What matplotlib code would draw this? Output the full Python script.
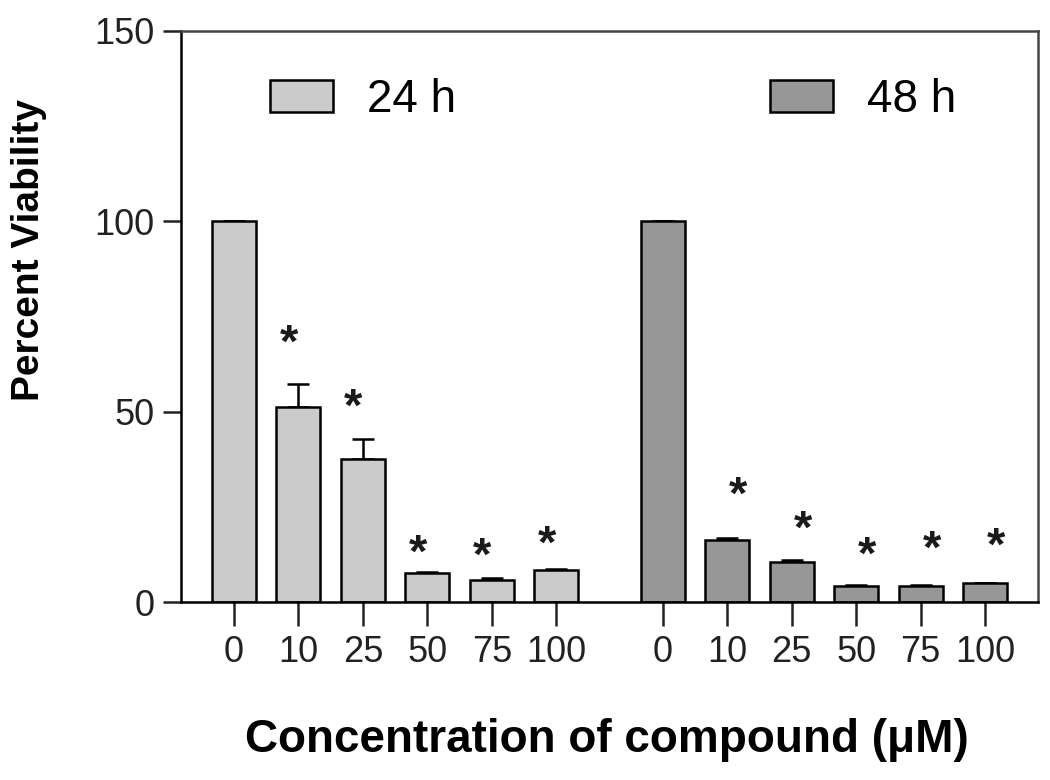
import numpy as np
import matplotlib
matplotlib.use("Agg")
import matplotlib.pyplot as plt
from matplotlib import font_manager

plt.rcParams['font.family'] = ['Liberation Sans', 'DejaVu Sans']

# tick numbers in the figure are a condensed face
names = {f.name for f in font_manager.fontManager.ttflist}
NARROW = "Liberation Sans Narrow" if "Liberation Sans Narrow" in names else None
print("narrow font:", NARROW)

# concentrations (uM) shown under each bar
conc_labels = ["0", "10", "25", "50", "75", "100"]

# percent viability, mean and upper SEM
viab_24h = [100.0, 51.3, 37.6, 7.6, 5.9, 8.3]
err_24h = [0.0, 6.0, 5.3, 0.3, 0.5, 0.4]
viab_48h = [100.0, 16.3, 10.6, 4.2, 4.2, 4.9]
err_48h = [0.0, 0.5, 0.4, 0.2, 0.2, 0.2]

# height of the significance asterisks (None = no mark)
star_24h = [None, 67.5, 50.7, 12.3, 11.6, 14.7]
star_48h = [None, 27.6, 18.6, 11.8, 13.4, 14.2]

GROUP_GAP = 6.65
BAR_W = 0.68
COL_24 = "#cbcbcb"
COL_48 = "#979797"

x24 = np.arange(len(conc_labels))
x48 = x24 + GROUP_GAP

fig = plt.figure(figsize=(10.5, 7.8), dpi=100)
ax = fig.add_axes([0.1724, 0.2282, 0.8162, 0.7321])

ax.bar(x24, viab_24h, width=BAR_W, color=COL_24, edgecolor="black", linewidth=1.8, label="24 h", zorder=2)
ax.bar(x48, viab_48h, width=BAR_W, color=COL_48, edgecolor="black", linewidth=1.8, label="48 h", zorder=2)

for xs, ys, es in [(x24, viab_24h, err_24h), (x48, viab_48h, err_48h)]:
    ax.errorbar(xs, ys, yerr=[np.zeros(len(es)), es], fmt="none", ecolor="black",
                elinewidth=1.8, capsize=8, capthick=1.8, zorder=1)

# asterisks sit a little left of the 24 h bars and right of the 48 h bars
for xs, stars, dx in [(x24, star_24h, -0.15), (x48, star_48h, 0.17)]:
    for xi, s in zip(xs, stars):
        if s is not None:
            ax.text(xi + dx, s, "*", ha="center", va="center", fontsize=34,
                    fontweight="bold", color="#1a1a1a")

ax.set_xlim(-0.82, 12.47)
ax.set_ylim(0, 150)
ax.set_yticks([0, 50, 100, 150])
ax.set_xticks(np.concatenate([x24, x48]))
ax.set_xticklabels(conc_labels + conc_labels)

for sp in ax.spines.values():
    sp.set_linewidth(1.8)
ax.spines["top"].set_color("#444444")
ax.spines["right"].set_color("#444444")

tick_size = 31 if NARROW else 26
ax.tick_params(axis="y", direction="out", length=13, width=1.8, labelsize=tick_size, pad=6, colors="#222222")
ax.tick_params(axis="x", direction="out", length=17, width=1.8, labelsize=tick_size, pad=7, colors="#222222")
if NARROW:
    for lab in ax.get_xticklabels() + ax.get_yticklabels():
        lab.set_family([NARROW, "DejaVu Sans"])

ax.set_ylabel("Percent Viability", fontsize=28, fontweight="bold")
ax.yaxis.set_label_coords(-0.177, 0.616)
ax.yaxis.label.set_va("center")
ax.set_xlabel("Concentration of compound (μM)", fontsize=33, fontweight="bold")
ax.xaxis.set_label_coords(0.497, -0.242)
ax.xaxis.label.set_va("center")

ax.legend(loc="center left", bbox_to_anchor=(0.104, 0.879), ncol=2, frameon=False,
          fontsize=33, handlelength=1.37, handleheight=0.72, handletextpad=0.74,
          columnspacing=6.85, borderpad=0, borderaxespad=0)

fig.savefig("out.png", dpi=100)
